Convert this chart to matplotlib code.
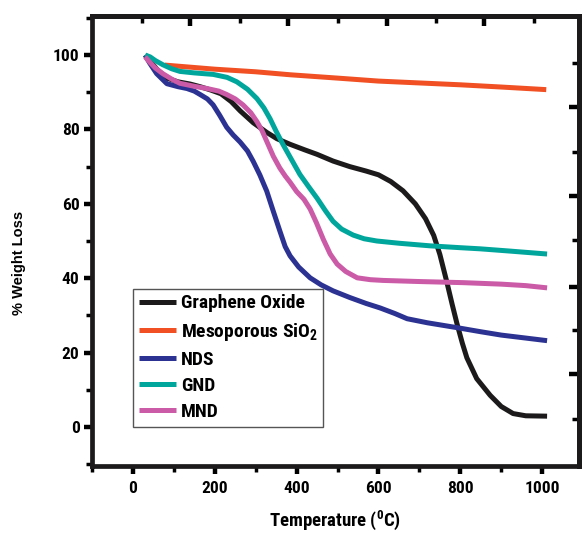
import matplotlib
matplotlib.use("Agg")
import matplotlib.pyplot as plt
from matplotlib.ticker import MultipleLocator, FixedLocator, NullFormatter
from matplotlib import font_manager

names = {f.name for f in font_manager.fontManager.ttflist}
cands = ["Liberation Sans Narrow", "Arial Narrow", "Roboto Condensed", "Archivo Narrow", "DejaVu Sans Condensed"]
NARROW = next((c for c in cands if c in names), "Liberation Sans")

plt.rcParams["font.family"] = [NARROW, "DejaVu Sans"]
plt.rcParams["font.weight"] = "bold"
plt.rcParams["mathtext.fontset"] = "custom"
plt.rcParams["mathtext.rm"] = NARROW + ":bold"
plt.rcParams["mathtext.default"] = "rm"

# ---- data ----
go_T = [30, 45, 60, 83, 110, 140, 164, 190, 215, 240, 262, 294, 327, 352, 384, 420, 450, 489, 530, 570, 600, 630, 660, 690, 715, 735, 750, 767, 780, 792, 805, 816, 840, 873, 900, 929, 960, 1012]
go_W = [100, 98, 96, 93.8, 92.8, 92.2, 91.5, 90.6, 89.6, 87.5, 85, 81.8, 79.2, 77.5, 76, 74.5, 73.3, 71.5, 70, 68.8, 67.8, 66, 63.5, 60, 56, 51.5, 46.4, 39, 33, 27.7, 22.5, 18.6, 13, 8.5, 5.5, 3.6, 3.0, 2.9]

si_T = [78, 200, 300, 384, 500, 600, 700, 800, 900, 1010]
si_W = [97.3, 96.2, 95.5, 94.7, 93.8, 93.0, 92.5, 92.0, 91.4, 90.7]

nds_T = [30, 40, 58, 83, 110, 132, 150, 164, 182, 196, 212, 229, 245, 262, 280, 294, 310, 327, 343, 359, 372, 384, 405, 433, 460, 489, 530, 570, 604, 640, 670, 720, 792, 850, 900, 960, 1012]
nds_W = [100, 98, 95, 92.3, 91.5, 91, 90.3, 89.4, 88.2, 86.6, 83.8, 80.6, 78.5, 76.6, 74.2, 71.4, 67.8, 63.4, 58, 52.7, 48.5, 46, 43, 40.1, 38.2, 36.6, 34.8, 33.2, 32, 30.5, 29.1, 28, 26.7, 25.6, 24.7, 23.9, 23.2]

gnd_T = [30, 42, 55, 73, 95, 115, 150, 196, 230, 254, 280, 303, 320, 335, 350, 367, 388, 408, 430, 450, 470, 489, 510, 538, 565, 596, 650, 726, 800, 848, 920, 1012]
gnd_W = [100, 99.5, 98.5, 97.4, 96.3, 95.6, 95.2, 94.8, 94, 92.8, 90.8, 88.3, 85.8, 82.9, 79.5, 75.9, 71.8, 67.9, 64.5, 61.5, 58.2, 55.3, 53.2, 51.6, 50.6, 50, 49.4, 48.7, 48.2, 47.9, 47.3, 46.5]

mnd_T = [30, 40, 55, 73, 95, 115, 150, 181, 210, 229, 250, 269, 288, 303, 315, 327, 343, 359, 372, 384, 400, 418, 433, 448, 465, 482, 499, 520, 548, 580, 611, 700, 807, 900, 960, 1012]
mnd_W = [99.5, 98.2, 96.5, 95, 93.5, 92.4, 91.6, 91, 90.3, 89.4, 88.2, 86.6, 84.5, 82.1, 79.8, 76.8, 72.8, 69.6, 67.5, 65.8, 63.3, 61.2, 58.6, 55, 50.5, 46.5, 43.8, 41.8, 40.1, 39.6, 39.4, 39.1, 38.8, 38.4, 38, 37.4]

labels = ["Graphene Oxide", "Mesoporous SiO$_2$", "NDS", "GND", "MND"]
colors = ["#1c1a1b", "#f05023", "#2b3292", "#00a69c", "#cb5aa7"]

fig = plt.figure(figsize=(5.84, 5.33), dpi=100)
ax = fig.add_axes([92/584, 1-466/533, 487/584, 450/533])

series = [(go_T, go_W), (si_T, si_W), (nds_T, nds_W), (gnd_T, gnd_W), (mnd_T, mnd_W)]
lines = []
for (t, w), c, lab in zip(series, colors, labels):
    ln, = ax.plot(t, w, color=c, lw=3.6, label=lab, solid_capstyle="butt", solid_joinstyle="round")
    lines.append(ln)
lines[1].set_zorder(1.5)

ax.set_xlim(-100, 1090)
ax.set_ylim(-10.5, 110.5)

ax.set_xticks([0, 200, 400, 600, 800, 1000])
ax.set_yticks([0, 20, 40, 60, 80, 100])
ax.xaxis.set_minor_locator(MultipleLocator(100))
ax.yaxis.set_minor_locator(MultipleLocator(10))

ax.tick_params(axis="both", which="major", direction="out", length=6, width=3.2, labelsize=12.5, pad=3)
ax.tick_params(axis="both", which="minor", direction="out", length=4, width=2.5)
ax.tick_params(axis="x", which="major", pad=5)
for s in ax.spines.values():
    s.set_linewidth(3.4)
    s.set_color("#1c1a1b")
for lab in ax.get_xticklabels() + ax.get_yticklabels():
    lab.set_fontweight("bold")

top = ax.secondary_xaxis("top")
top.xaxis.set_major_locator(FixedLocator([139, 380, 620, 859]))
top.xaxis.set_minor_locator(FixedLocator([22, 261, 502, 741, 980]))
top.tick_params(which="major", direction="in", length=7, width=3.2, labeltop=False)
top.tick_params(which="minor", direction="in", length=5, width=2.5)
top.xaxis.set_major_formatter(NullFormatter())
top.spines["top"].set_linewidth(3.4)

right = ax.secondary_yaxis("right")
right.yaxis.set_major_locator(FixedLocator([86.1, 62.0, 37.7, 14.2]))
right.yaxis.set_minor_locator(FixedLocator([97.9, 73.8, 50.3, 26.2, 2.1]))
right.tick_params(which="major", direction="in", length=7, width=3.2, labelright=False)
right.tick_params(which="minor", direction="in", length=5, width=2.5)
right.yaxis.set_major_formatter(NullFormatter())
right.spines["right"].set_linewidth(3.4)

ax.set_xlabel("Temperature ($^0$C)", fontsize=13.5, fontweight="bold", labelpad=9)
ax.set_ylabel("% Weight Loss", fontsize=10.5, fontweight="bold", family=["Liberation Sans", "DejaVu Sans"])
ax.yaxis.set_label_coords(-0.135, 0.451)

leg = ax.legend(handles=lines, loc="lower left", bbox_to_anchor=(41/487, 39/450), borderaxespad=0,
                frameon=True, fancybox=False, edgecolor="#555555", framealpha=1,
                prop={"family": NARROW, "weight": "bold", "size": 14},
                handlelength=1.9, handletextpad=0.25, labelspacing=0.42, borderpad=0.3)
leg.get_frame().set_linewidth(1.0)
for h in leg.legend_handles:
    h.set_linewidth(3.6)

fig.savefig("out.png", dpi=100)
